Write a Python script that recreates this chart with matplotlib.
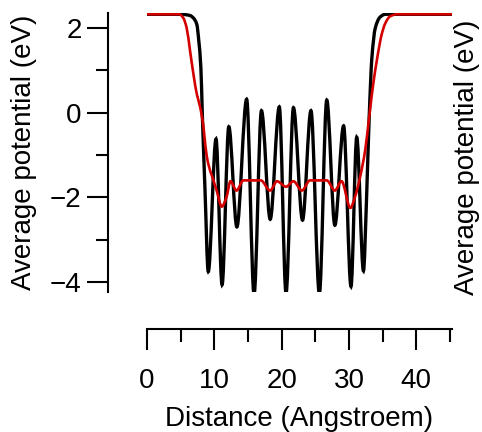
import numpy as np
import matplotlib
matplotlib.use("Agg")
import matplotlib.pyplot as plt
from matplotlib.path import Path
from matplotlib.patches import PathPatch

plt.rcParams['font.family'] = ['Liberation Sans', 'DejaVu Sans']

# values (distance in Angstroem, potential in eV)
black_x = [0.0, 5.0, 6.4, 6.9, 7.4, 7.7, 8.0, 8.2, 8.4, 8.6, 9.1,
           10.25, 11.15, 12.15, 13.35, 14.8, 15.9, 17.0, 18.3, 19.65, 20.65,
           21.75, 23.1, 24.35, 25.6, 26.7, 27.9, 29.2, 30.3, 31.15, 32.15,
           32.6, 33.0, 33.4, 33.9, 34.6, 35.4, 45.3]
black_y = [2.33, 2.33, 2.3, 2.24, 2.09, 1.69, 1.07, 0.05, -0.89, -1.76, -3.76,
           -0.62, -4.07, -0.33, -2.7, 0.32, -4.3, 0.05, -2.52, 0.14, -4.27,
           0.12, -2.54, 0.05, -4.28, 0.3, -2.66, -0.31, -4.11, -0.58, -3.74,
           -2.07, -0.1, 1.3, 2.0, 2.26, 2.33, 2.33]

red_x = [0.0, 4.8, 5.4, 5.9, 6.4, 6.9, 7.4, 7.9, 8.4, 8.7, 9.1, 9.7, 10.35,
         11.1, 11.8, 12.4, 13.3, 14.3, 16.9, 18.3, 19.3, 20.65, 21.75, 23.0,
         24.2, 26.7, 27.9, 28.9, 30.2, 30.9, 31.65, 32.4, 33.0, 33.6, 34.2,
         34.85, 35.4, 36.1, 37.1, 45.3]
red_y = [2.33, 2.33, 2.24, 2.0, 1.46, 0.91, 0.44, 0.13, -0.35, -0.82, -1.21,
         -1.52, -1.84, -2.22, -2.0, -1.62, -1.84, -1.6, -1.6, -1.84, -1.62,
         -1.75, -1.62, -1.84, -1.6, -1.6, -1.84, -1.62, -2.25, -1.99, -1.52,
         -0.89, -0.1, 0.68, 1.3, 1.85, 2.12, 2.28, 2.33, 2.33]


def smooth_path(xs, ys):
    # monotone cubic segments drawn as bezier curves through the read points
    x = np.asarray(xs, float)
    y = np.asarray(ys, float)
    h = np.diff(x)
    d = np.diff(y) / h
    m = np.zeros_like(x)
    for i in range(1, len(x) - 1):
        if d[i - 1] * d[i] > 0:
            w1 = 2 * h[i] + h[i - 1]
            w2 = h[i] + 2 * h[i - 1]
            m[i] = (w1 + w2) / (w1 / d[i - 1] + w2 / d[i])
    verts = [(x[0], y[0])]
    codes = [Path.MOVETO]
    for i in range(len(x) - 1):
        verts += [(x[i] + h[i] / 3, y[i] + m[i] * h[i] / 3),
                  (x[i + 1] - h[i] / 3, y[i + 1] - m[i + 1] * h[i] / 3),
                  (x[i + 1], y[i + 1])]
        codes += [Path.CURVE4] * 3
    return Path(verts, codes)


fig = plt.figure(figsize=(4.82, 4.32), dpi=100)
ax = fig.add_axes([147 / 482, 1 - 292 / 432, 305 / 482, 279 / 432])

ax.add_patch(PathPatch(smooth_path(black_x, black_y), fill=False,
                       edgecolor='black', lw=2.4, capstyle='butt'))
ax.add_patch(PathPatch(smooth_path(red_x, red_y), fill=False,
                       edgecolor='#d40000', lw=1.9, capstyle='butt'))

ax.set_xlim(0, 45.3)
ax.set_ylim(-4.24, 2.36)

for s in ['top', 'right']:
    ax.spines[s].set_visible(False)
ax.spines['left'].set_position(('outward', 28))
ax.spines['bottom'].set_position(('outward', 26.5))
for s in ['left', 'bottom']:
    ax.spines[s].set_linewidth(1.5)

ax.set_xticks([0, 10, 20, 30, 40])
ax.set_xticks([5, 15, 25, 35, 45], minor=True)
ax.set_yticks([-4, -2, 0, 2])
ax.set_yticks([-3, -1, 1], minor=True)
ax.tick_params(which='major', length=15, width=1.5, labelsize=20)
ax.tick_params(which='minor', length=9, width=1.5)
ax.tick_params(axis='x', pad=13)
ax.tick_params(axis='y', pad=4)

ax.set_xlabel('Distance (Angstroem)', fontsize=20, labelpad=9)
ax.set_ylabel('Average potential (eV)', fontsize=20, labelpad=9)
fig.text(467 / 482, 1 - 157 / 432, 'Average potential (eV)', fontsize=20,
         rotation=90, ha='center', va='center')

plt.savefig('out.png', dpi=100)
